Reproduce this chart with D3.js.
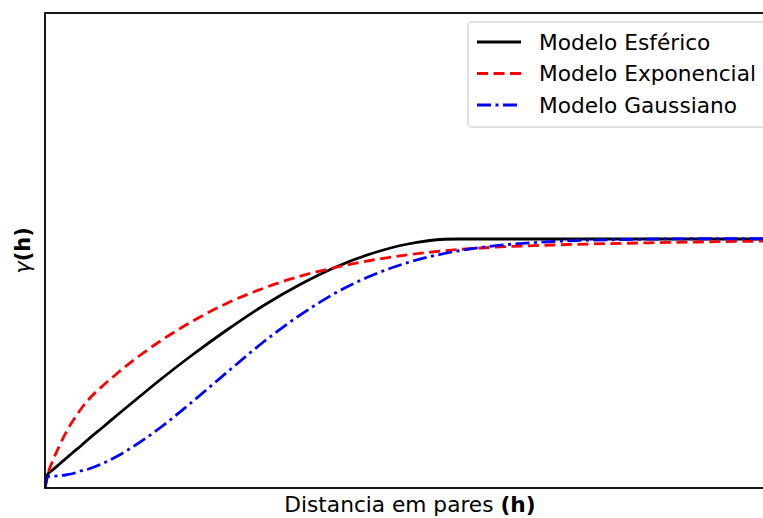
<!DOCTYPE html>
<html>
<head>
<meta charset="utf-8">
<script src="https://cdn.jsdelivr.net/npm/d3@7"></script>
<style>
  html, body { margin: 0; padding: 0; background: #ffffff; overflow: hidden; }
  svg { display: block; font-family: "DejaVu Sans", sans-serif; }
</style>
</head>
<body>
<svg id="chart" width="763" height="518"></svg>
<script>
// Lag distance (h) shared by the three fitted semivariogram models
const lag = [0, 0.4, 1, 2, 3, 4, 5, 6, 8, 10, 13, 16, 20, 25, 30, 35, 40, 45, 50, 55, 57, 60, 70, 80, 90, 100];

// Semivariance γ(h) of each model
const esferico = [0, 0.056, 0.071, 0.096, 0.121, 0.146, 0.170, 0.196, 0.244, 0.293, 0.365, 0.436, 0.526, 0.631, 0.728, 0.812, 0.883, 0.938, 0.976, 0.995, 0.996, 0.996, 0.996, 0.996, 0.996, 0.996];
const exponencial = [0, 0.056, 0.104, 0.170, 0.228, 0.276, 0.318, 0.354, 0.410, 0.460, 0.529, 0.590, 0.662, 0.738, 0.798, 0.846, 0.882, 0.911, 0.933, 0.949, 0.954, 0.960, 0.972, 0.979, 0.984, 0.988];
const gaussiano = [0, 0.046, 0.047, 0.049, 0.053, 0.059, 0.069, 0.076, 0.099, 0.128, 0.182, 0.244, 0.338, 0.461, 0.582, 0.689, 0.780, 0.850, 0.902, 0.938, 0.949, 0.962, 0.986, 0.994, 0.997, 0.997];

const seriesNames = ["Modelo Esférico", "Modelo Exponencial", "Modelo Gaussiano"];
const xLabel = "Distancia em pares ";
const yLabel = "γ";

const svg = d3.select("#chart");

// Plot area (right spine sits just past the visible canvas)
const plotLeft = 45, plotRight = 771, plotTop = 13, plotBottom = 488;

const x = d3.scaleLinear().domain([0, 100]).range([plotLeft, plotRight]);
const y = d3.scaleLinear().domain([0, 1.9]).range([plotBottom, plotTop]);

const styles = [
  { color: "#000000", dash: null, width: 2.8 },
  { color: "#ff0000", dash: "11,5.5", width: 2.8 },
  { color: "#0000ff", dash: "14,4.5,3,4.5", width: 2.8 }
];
const seriesValues = [esferico, exponencial, gaussiano];

svg.append("defs").append("clipPath").attr("id", "plotClip")
  .append("rect").attr("x", plotLeft).attr("y", plotTop - 2)
  .attr("width", plotRight - plotLeft).attr("height", plotBottom - plotTop + 4);

const line = d3.line()
  .x(d => x(d[0]))
  .y(d => y(d[1]))
  .curve(d3.curveMonotoneX);

const plot = svg.append("g").attr("clip-path", "url(#plotClip)");
seriesValues.forEach((vals, i) => {
  const pts = lag.map((h, j) => [h, vals[j]]);
  plot.append("path")
    .datum(pts)
    .attr("d", line)
    .attr("fill", "none")
    .attr("stroke", styles[i].color)
    .attr("stroke-width", styles[i].width)
    .attr("stroke-dasharray", styles[i].dash)
    .attr("stroke-linejoin", "round");
});

// Axis frame (no ticks)
svg.append("rect")
  .attr("x", plotLeft).attr("y", plotTop)
  .attr("width", plotRight - plotLeft).attr("height", plotBottom - plotTop)
  .attr("fill", "none").attr("stroke", "#000").attr("stroke-width", 1.8);

// Axis labels
const xl = svg.append("text")
  .attr("x", (plotLeft + plotRight) / 2 + 2).attr("y", 512)
  .attr("text-anchor", "middle")
  .attr("font-size", 21.7).attr("fill", "#000");
xl.append("tspan").text(xLabel);
xl.append("tspan").attr("font-weight", "bold").text("(h)");

const yl = svg.append("text")
  .attr("transform", `translate(30, ${(plotTop + plotBottom) / 2}) rotate(-90)`)
  .attr("text-anchor", "middle")
  .attr("font-size", 21).attr("fill", "#000");
yl.append("tspan").attr("font-style", "italic").text(yLabel);
yl.append("tspan").attr("font-weight", "bold").text("(h)");

// Legend
const lg = svg.append("g");
lg.append("rect")
  .attr("x", 468).attr("y", 22)
  .attr("width", 299).attr("height", 105)
  .attr("rx", 4).attr("ry", 4)
  .attr("fill", "#ffffff").attr("fill-opacity", 0.8)
  .attr("stroke", "#d6d6d6").attr("stroke-width", 1.5);

const rowY = d3.scaleLinear().domain([0, 2]).range([42, 105]);
seriesNames.forEach((name, i) => {
  const yy = rowY(i);
  lg.append("line")
    .attr("x1", 477).attr("x2", 521).attr("y1", yy).attr("y2", yy)
    .attr("stroke", styles[i].color)
    .attr("stroke-width", styles[i].width)
    .attr("stroke-dasharray", styles[i].dash);
  lg.append("text")
    .attr("x", 539).attr("y", yy + 7.5)
    .attr("font-size", 21.7).attr("fill", "#000")
    .text(name);
});
</script>
</body>
</html>
